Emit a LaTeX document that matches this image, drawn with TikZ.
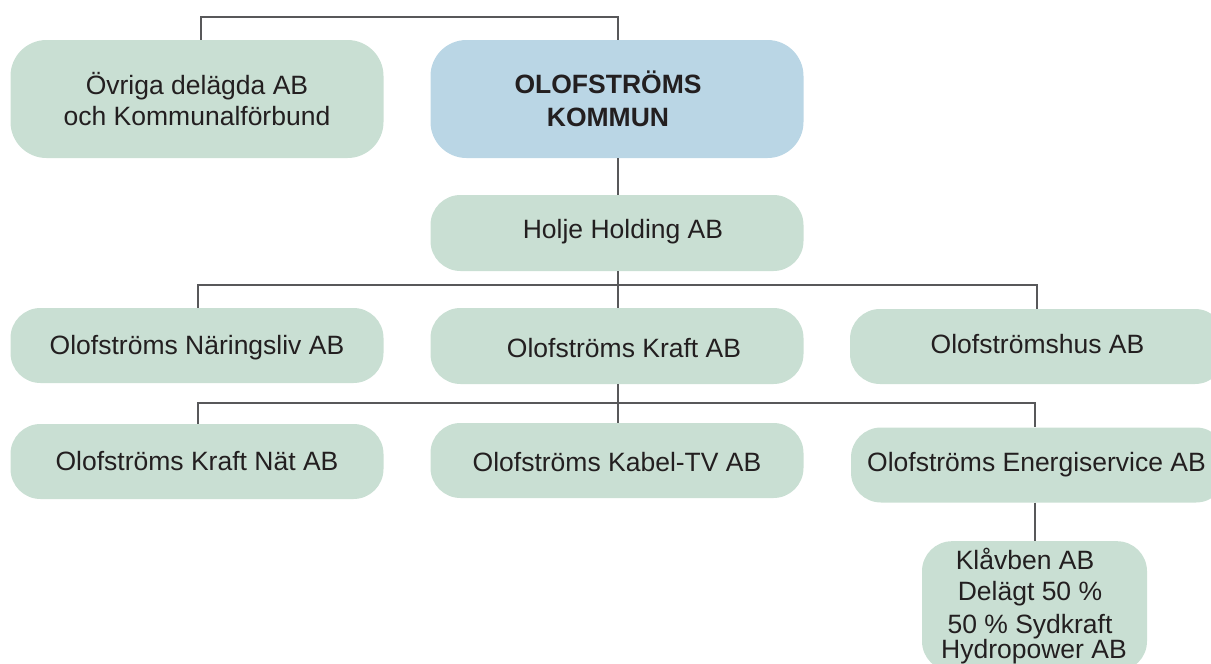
\documentclass[tikz,border=0pt]{standalone}
\usepackage{fontspec}
\setmainfont{Liberation Sans}
\definecolor{boxgreen}{HTML}{C9DFD3}
\definecolor{boxblue}{HTML}{BAD6E5}
\definecolor{linegray}{HTML}{58585A}
\definecolor{txt}{HTML}{231F20}
\tikzset{
  orgbox/.style={fill=boxgreen, draw=none, rounded corners=30pt, minimum width=373pt, minimum height=75pt, inner sep=0pt, text=txt, font=\fontsize{26.5}{31}\selectfont, align=center},
  onebox/.style={orgbox, text height=19pt, text depth=0pt},
  tallbox/.style={orgbox, minimum height=118pt, rounded corners=36pt},
  topbox/.style={tallbox, fill=boxblue, font=\fontsize{26.5}{33}\selectfont\bfseries},
  conn/.style={draw=linegray, line width=2.6pt}
}
\begin{document}
\begin{tikzpicture}[x=1pt,y=-1pt]
\useasboundingbox (0,0) rectangle (1211,664);
\coordinate (topline) at (0,17);
\coordinate (row2line) at (0,285);
\coordinate (row3line) at (0,403);
\begin{scope}
\clip (0,0) rectangle (1211,664);
\node[tallbox] (ovriga) at (197,99) {Övriga delägda AB\\och Kommunalförbund};
\node[topbox] (kommun) at (617,99) {\hspace*{-18pt}OLOFSTRÖMS\\\hspace*{-18pt}KOMMUN};
\node[onebox, minimum height=76pt] (holding) at (617,233) {\raisebox{4.5pt}{\hspace*{12pt}Holje Holding AB}};
\node[onebox] (naring) at (197,345.5) {\raisebox{0.5pt}{Olofströms Näringsliv AB}};
\node[onebox, minimum height=76pt] (kraft) at (617,346) {\raisebox{-2pt}{\hspace*{14pt}Olofströms Kraft AB}};
\node[onebox, minimum width=375pt] (hus) at (1037.5,346.5) {\raisebox{2.5pt}{Olofströmshus AB}};
\node[onebox] (kraftnat) at (197,461.5) {\raisebox{1pt}{Olofströms Kraft Nät AB}};
\node[onebox] (kabel) at (617,460.5) {\raisebox{-1.5pt}{Olofströms Kabel-TV AB}};
\node[onebox, minimum width=375pt] (energi) at (1038.5,465) {\raisebox{3pt}{\hspace*{-4pt}Olofströms Energiservice AB}};
\node[orgbox, minimum width=225pt, minimum height=130pt, anchor=north, rounded corners=30pt] (klavben) at (1034.5,541) {};
\node[text=txt, font=\fontsize{26.5}{30}\selectfont, align=center, inner sep=0pt] (klavtext) at (1030,606)
  {\hspace*{-10pt}Klåvben AB\\[1pt] Delägt 50 \%\\[3pt] 50 \% Sydkraft\\[-5pt]\hspace*{8pt}Hydropower AB};
\end{scope}
% connectors
\draw[conn] ([xshift=4pt]ovriga.north) -- ([xshift=4pt]ovriga.north |- topline) -- ([xshift=1pt]kommun.north |- topline) -- ([xshift=1pt]kommun.north);
\draw[conn] ([xshift=1pt]kommun.south) -- ([xshift=1pt]holding.north);
\draw[conn] ([xshift=1pt]holding.south) -- ([xshift=1pt]kraft.north);
\draw[conn] ([xshift=1pt]naring.north) -- ([xshift=1pt]naring.north |- row2line) -- ([xshift=-0.5pt]hus.north |- row2line) -- ([xshift=-0.5pt]hus.north);
\draw[conn] ([xshift=1pt]kraft.south) -- ([xshift=1pt]kabel.north);
\draw[conn] ([xshift=1pt]kraftnat.north) -- ([xshift=1pt]kraftnat.north |- row3line) -- ([xshift=-3.5pt]energi.north |- row3line) -- ([xshift=-3.5pt]energi.north);
\draw[conn] ([xshift=-3.5pt]energi.south) -- ([xshift=0.5pt]klavben.north);
\end{tikzpicture}
\end{document}
